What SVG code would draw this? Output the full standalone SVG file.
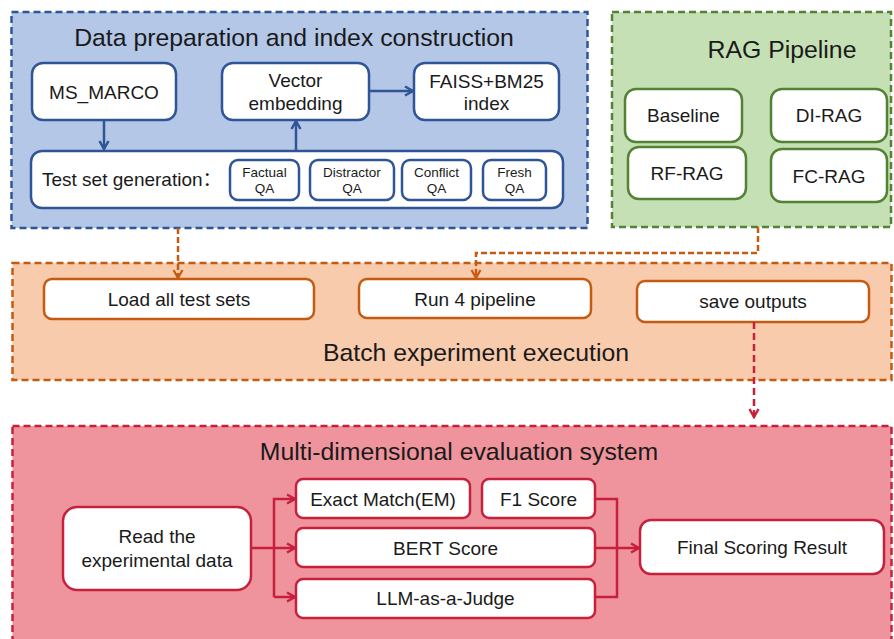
<svg xmlns="http://www.w3.org/2000/svg" width="894" height="639" viewBox="0 0 894 639">
<defs>
<style>
text{font-family:"Liberation Sans",Arial,"Noto Sans CJK SC",sans-serif;fill:#1a1a1a;text-anchor:middle}
.title{font-size:24.8px}
.lbl{font-size:19px}
.sm{font-size:13.5px}
.box{fill:#fff;stroke-width:2.5}
.bl{stroke:#2f5597}
.gr{stroke:#548235}
.or{stroke:#c55a11}
.rd{stroke:#c6203d}
.cont{stroke-width:2.5;stroke-dasharray:7 4}
.conn{fill:none;stroke-width:2.5}
</style>
<marker id="aB" viewBox="0 0 12 12" refX="10" refY="6" markerWidth="12" markerHeight="12" markerUnits="userSpaceOnUse" orient="auto"><path d="M2,1.5 L10,6 L2,10.5" fill="none" stroke="#2f5597" stroke-width="2.5"/></marker>
<marker id="aO" viewBox="0 0 12 12" refX="10" refY="6" markerWidth="12" markerHeight="12" markerUnits="userSpaceOnUse" orient="auto"><path d="M2,1.5 L10,6 L2,10.5" fill="none" stroke="#c55a11" stroke-width="2.2"/></marker>
<marker id="aR" viewBox="0 0 12 12" refX="10" refY="6" markerWidth="12" markerHeight="12" markerUnits="userSpaceOnUse" orient="auto"><path d="M2,1.5 L10,6 L2,10.5" fill="none" stroke="#c6203d" stroke-width="2.5"/></marker>
</defs>

<g id="data-prep">
<rect x="11.5" y="12" width="576" height="216" fill="#b4c7e7" class="cont bl"/>
<text class="title" x="294" y="46">Data preparation and index construction</text>
</g>
<g id="rag-pipeline">
<rect x="612" y="12" width="279" height="215" fill="#c5e0b4" class="cont gr"/>
<text class="title" x="782" y="58">RAG Pipeline</text>
</g>
<g id="batch">
<rect x="12.5" y="263" width="879" height="117" fill="#f8cbad" class="cont or"/>
<text class="title" x="476" y="361">Batch experiment execution</text>
</g>
<g id="evaluation">
<rect x="12.5" y="426" width="879" height="225" fill="#ef949c" class="cont rd"/>
<text class="title" x="459" y="460">Multi-dimensional evaluation system</text>
</g>

<g id="ms-marco"><rect class="box bl" x="32" y="63" width="144" height="57" rx="11"/><text class="lbl" x="104" y="98.5">MS_MARCO</text></g>
<g id="vector-embedding"><rect class="box bl" x="222" y="63" width="147" height="57" rx="11"/><text class="lbl" x="295.5" y="87">Vector</text><text class="lbl" x="295.5" y="110">embedding</text></g>
<g id="faiss"><rect class="box bl" x="414" y="63" width="145" height="57" rx="11"/><text class="lbl" x="486.5" y="88">FAISS+BM25</text><text class="lbl" x="486.5" y="110">index</text></g>
<g id="test-set"><rect class="box bl" x="31" y="151" width="532" height="57" rx="11"/><text class="lbl" x="42" y="185.5" style="text-anchor:start">Test set generation：</text></g>
<g id="factual-qa"><rect class="box bl" x="230" y="160" width="69" height="40" rx="8"/><text class="sm" x="264.5" y="176.5">Factual</text><text class="sm" x="264.5" y="193">QA</text></g>
<g id="distractor-qa"><rect class="box bl" x="310" y="160" width="84" height="40" rx="8"/><text class="sm" x="352" y="176.5">Distractor</text><text class="sm" x="352" y="193">QA</text></g>
<g id="conflict-qa"><rect class="box bl" x="402" y="160" width="69" height="40" rx="8"/><text class="sm" x="436.5" y="176.5">Conflict</text><text class="sm" x="436.5" y="193">QA</text></g>
<g id="fresh-qa"><rect class="box bl" x="483" y="160" width="63" height="40" rx="8"/><text class="sm" x="514.5" y="176.5">Fresh</text><text class="sm" x="514.5" y="193">QA</text></g>

<g id="baseline"><rect class="box gr" x="625" y="89" width="117" height="53" rx="11"/><text class="lbl" x="683.5" y="122">Baseline</text></g>
<g id="di-rag"><rect class="box gr" x="771" y="89" width="116" height="53" rx="11"/><text class="lbl" x="829" y="122">DI-RAG</text></g>
<g id="rf-rag"><rect class="box gr" x="628" y="147" width="118" height="52" rx="11"/><text class="lbl" x="687" y="180">RF-RAG</text></g>
<g id="fc-rag"><rect class="box gr" x="771" y="149" width="116" height="53" rx="11"/><text class="lbl" x="829" y="182.5">FC-RAG</text></g>

<g id="load-tests"><rect class="box or" x="44" y="279" width="270" height="40" rx="8"/><text class="lbl" x="179" y="306">Load all test sets</text></g>
<g id="run-pipeline"><rect class="box or" x="359" y="279" width="232" height="39" rx="8"/><text class="lbl" x="475" y="306">Run 4 pipeline</text></g>
<g id="save-outputs"><rect class="box or" x="637" y="281" width="232" height="41" rx="8"/><text class="lbl" x="753" y="308">save outputs</text></g>

<g id="read-data"><rect class="box rd" x="63" y="507" width="188" height="83" rx="14"/><text class="lbl" x="157" y="543">Read the</text><text class="lbl" x="157" y="567">experimental data</text></g>
<g id="exact-match"><rect class="box rd" x="296" y="479" width="174" height="39" rx="7"/><text class="lbl" x="383" y="506">Exact Match(EM)</text></g>
<g id="f1-score"><rect class="box rd" x="482" y="479" width="113" height="39" rx="7"/><text class="lbl" x="538.5" y="506">F1 Score</text></g>
<g id="bert-score"><rect class="box rd" x="296" y="528" width="299" height="39" rx="7"/><text class="lbl" x="445.5" y="554.5">BERT Score</text></g>
<g id="llm-judge"><rect class="box rd" x="296" y="579" width="299" height="39" rx="7"/><text class="lbl" x="445.5" y="605">LLM-as-a-Judge</text></g>
<g id="final-result"><rect class="box rd" x="640" y="520" width="244" height="54" rx="11"/><text class="lbl" x="762" y="553.5">Final Scoring Result</text></g>

<g id="connectors">
<path class="conn bl" d="M104,120 V149" marker-end="url(#aB)"/>
<path class="conn bl" d="M296,151 V121" marker-end="url(#aB)"/>
<path class="conn bl" d="M369,91 H413" marker-end="url(#aB)"/>
<path class="conn or" d="M178,228 V278" stroke-dasharray="6 3" stroke-width="2.2" marker-end="url(#aO)"/>
<path class="conn or" d="M758,227 V253 H476 V278" stroke-dasharray="6 3" stroke-width="2.2" marker-end="url(#aO)"/>
<path class="conn rd" d="M754,322 V417" stroke-dasharray="7 4" stroke-width="2.2" marker-end="url(#aR)"/>
<path class="conn rd" d="M251,548 H295" marker-end="url(#aR)"/>
<path class="conn rd" d="M274,597 V499 H295" marker-end="url(#aR)"/>
<path class="conn rd" d="M274,597 H295" marker-end="url(#aR)"/>
<path class="conn rd" d="M595,499 H617 V597 H595"/>
<path class="conn rd" d="M595,548 H639" marker-end="url(#aR)"/>
</g>
</svg>
